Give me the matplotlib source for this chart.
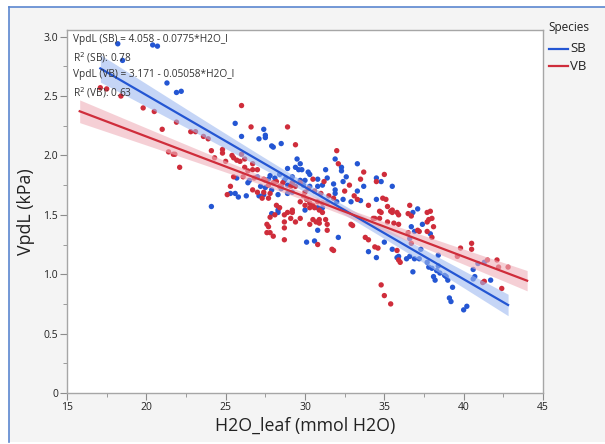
import numpy as np
import matplotlib
matplotlib.use("Agg")
import matplotlib.pyplot as plt
from matplotlib.patches import Rectangle
from matplotlib.lines import Line2D
from matplotlib.ticker import MultipleLocator

plt.rcParams['font.family'] = ['Open Sans', 'DejaVu Sans']

# ---------------- data ----------------
sb_x = [18.2, 20.4, 20.7, 18.5, 21.3, 21.9, 22.2, 24.1,
        25.6, 26.0, 27.4, 27.5, 27.5, 27.1, 27.9, 28.0, 28.5,
        29.5, 29.7, 29.4, 29.6, 29.8, 30.2, 30.3, 30.8, 31.3, 31.4, 28.9, 28.8, 29.2, 29.7,
        30.0, 27.7, 28.1, 27.0, 26.5, 26.4, 27.2, 27.5, 28.5, 28.9, 29.9, 30.3, 30.8, 31.1,
        31.9, 32.3, 32.3, 33.3, 32.6, 32.4, 31.8, 31.9, 31.9, 34.5, 34.8, 35.5, 33.7, 33.3,
        32.4, 34.5, 32.0, 32.9, 33.5,
        25.6, 25.8, 26.3, 27.1, 27.9, 28.3, 28.5, 27.9, 28.3,
        30.0, 31.1, 31.4, 30.8, 30.8,
        30.1, 30.6, 32.1, 35.0, 34.0, 34.5, 35.5, 35.9, 35.8,
        36.4, 36.6, 36.9, 37.2, 37.3, 37.7, 36.8,
        38.0, 38.3, 38.1, 38.5, 38.8, 38.9, 39.3, 38.2, 39.0,
        40.6, 40.7, 40.6, 40.9, 41.7, 41.3,
        38.4, 39.1, 39.2, 40.0, 40.2,
        37.1, 36.8, 36.7, 37.4, 36.9, 37.9, 36.6, 37.8, 38.4,
        25.3, 27.8, 28.4, 28.7, 29.2, 25.7, 28.3, 27.4, 28.9, 29.2]
sb_y = [2.94, 2.93, 2.92, 2.80, 2.61, 2.53, 2.54, 1.57,
        2.27, 2.16, 2.22, 2.17, 2.15, 2.14, 2.08, 2.07, 2.10,
        1.97, 1.93, 1.90, 1.88, 1.88, 1.86, 1.84, 1.80, 1.88, 1.81, 1.89, 1.81, 1.82, 1.79,
        1.79, 1.80, 1.81, 1.82, 1.79, 1.77, 1.74, 1.73, 1.74, 1.75, 1.75, 1.74, 1.74, 1.75,
        1.97, 1.90, 1.87, 1.93, 1.82, 1.78, 1.76, 1.71, 1.68, 1.81, 1.78, 1.74, 1.74, 1.70,
        1.63, 1.63, 1.61, 1.61, 1.62,
        1.68, 1.65, 1.66, 1.66, 1.71, 1.67, 1.72, 1.51, 1.54,
        1.54, 1.56, 1.60, 1.56, 1.37,
        1.27, 1.28, 1.31, 1.27, 1.19, 1.14, 1.21, 1.15, 1.14,
        1.13, 1.15, 1.13, 1.13, 1.21, 1.10, 1.02,
        1.05, 1.03, 0.98, 1.01, 0.99, 0.98, 0.89, 0.95, 0.95,
        1.04, 0.98, 0.96, 1.09, 0.95, 1.10,
        1.16, 0.80, 0.77, 0.70, 0.73,
        1.55, 1.52, 1.40, 1.42, 1.36, 1.34, 1.30, 1.06, 1.07,
        1.68, 1.83, 1.84, 1.79, 1.77, 1.81, 1.52, 1.67, 1.68, 1.69]

vb_x = [17.1, 17.5, 18.4, 19.8, 20.5, 21.0, 21.9, 22.8, 23.1, 23.6, 23.9, 21.4, 21.7, 21.8,
        24.1, 24.3, 22.1,
        26.0, 26.6, 28.9, 29.4,
        24.8, 24.8, 25.0, 25.4, 25.5, 25.7, 25.9, 26.0, 26.2, 26.7, 26.2, 26.4, 26.7, 27.0,
        25.5, 25.3, 26.1, 26.8, 27.4, 27.5, 27.7, 28.0, 28.2, 28.4, 28.6, 29.1, 29.2, 29.4,
        32.0, 32.1, 33.7, 33.5, 35.0, 34.5, 34.9, 33.3,
        35.1, 36.6, 35.4, 35.5, 35.8, 35.9, 36.5, 36.7, 37.7, 37.9, 38.0, 37.7, 37.8, 38.1,
        37.1, 37.2, 37.7, 38.0, 36.5, 35.9, 35.2, 35.6, 34.8, 34.3, 35.5,
        29.7, 30.0, 30.1, 30.3, 30.6, 30.9, 31.1, 30.9, 31.4, 30.8, 31.7, 31.8, 32.9, 33.8,
        34.0, 34.4, 34.6, 35.8, 35.9, 36.0, 34.8, 35.0, 35.4,
        39.8, 40.5, 40.5, 39.6, 41.5, 42.1, 42.2, 42.8, 41.3, 42.4, 41.2,
        36.7, 34.0, 34.7, 34.4, 34.7, 33.0, 35.2,
        25.1, 26.7, 27.0, 27.4, 27.3, 27.7, 27.8, 28.2, 28.4, 28.1, 27.8, 27.7, 27.8, 28.0,
        28.7, 28.7, 29.1, 29.2, 29.2, 28.9, 28.7, 29.4, 29.7, 28.7, 30.3, 30.5, 30.7, 30.9,
        31.3, 31.4, 29.7, 30.0, 30.3, 30.5, 30.8, 31.1,
        27.6, 27.6, 30.2, 30.6, 31.0, 31.5, 31.8, 32.5, 31.2, 30.5, 32.8, 33.1, 29.9]
vb_y = [2.57, 2.56, 2.50, 2.40, 2.37, 2.22, 2.28, 2.20, 2.20, 2.16, 2.14, 2.03, 2.01, 2.01,
        2.04, 1.98, 1.90,
        2.42, 2.24, 2.24, 2.09,
        2.05, 2.02, 1.95, 2.00, 1.98, 1.96, 1.95, 2.01, 1.97, 1.93, 1.90, 1.87, 1.88, 1.88,
        1.82, 1.74, 1.82, 1.81, 1.80, 1.79, 1.75, 1.77, 1.78, 1.74, 1.77, 1.74, 1.77, 1.74,
        2.04, 1.93, 1.86, 1.80, 1.84, 1.78, 1.64, 1.63,
        1.63, 1.58, 1.53, 1.54, 1.52, 1.50, 1.51, 1.49, 1.52, 1.53, 1.47, 1.44, 1.46, 1.40,
        1.37, 1.36, 1.36, 1.31, 1.35, 1.42, 1.44, 1.43, 1.52, 1.47, 1.52,
        1.77, 1.69, 1.63, 1.60, 1.56, 1.54, 1.52, 1.46, 1.37, 1.25, 1.21, 1.20, 1.42, 1.31,
        1.29, 1.23, 1.22, 1.20, 1.12, 1.10, 0.91, 0.82, 0.75,
        1.22, 1.26, 1.21, 1.15, 1.12, 1.12, 1.06, 1.06, 0.94, 0.88, 0.93,
        1.26, 1.58, 1.53, 1.47, 1.47, 1.41, 1.57,
        1.67, 1.71, 1.69, 1.69, 1.64, 1.64, 1.68, 1.58, 1.56, 1.50, 1.48, 1.40, 1.35, 1.32,
        1.39, 1.44, 1.47, 1.52, 1.54, 1.52, 1.50, 1.44, 1.47, 1.29, 1.42, 1.46, 1.44, 1.43,
        1.46, 1.42, 1.61, 1.58, 1.56, 1.58, 1.61, 1.60,
        1.42, 1.35, 1.72, 1.70, 1.68, 1.66, 1.64, 1.70, 1.78, 1.80, 1.75, 1.66, 1.66]

# fitted equations (as reported on the chart) and the x-range each fit spans
sb_intercept, sb_slope, sb_r2 = 4.058, -0.0775, 0.78
vb_intercept, vb_slope, vb_r2 = 3.171, -0.05058, 0.63
sb_fit_range = [17.1, 42.8]
vb_fit_range = [15.8, 44.0]

species = ["SB", "VB"]
x_label = "H2O_leaf (mmol H2O)"
y_label = "VpdL (kPa)"

# ---------------- style ----------------
blue = '#2456d3'
red = '#cf2d3b'
blue_band = '#9fbaf0'
red_band = '#efb0ba'

W, H = 605, 444
fig = plt.figure(figsize=(W / 100, H / 100), dpi=100, facecolor='white')

# outer panel with blue left/top border
bg = Rectangle((9 / W, 2 / H), 1, 1 - 9 / H, transform=fig.transFigure,
               facecolor='#f4f4f4', edgecolor='none', zorder=-10)
fig.patches.append(bg)
fig.add_artist(Line2D([9 / W, 9 / W], [2 / H, 1 - 7 / H], transform=fig.transFigure,
                      color='#5b86cf', lw=1.2))
fig.add_artist(Line2D([9 / W, 1], [1 - 7 / H, 1 - 7 / H], transform=fig.transFigure,
                      color='#5b86cf', lw=1.2))

ax = fig.add_axes([67 / W, 51 / H, 476 / W, 363 / H])
ax.set_facecolor('white')
ax.set_xlim(15, 45)
ax.set_ylim(0, 3.056)

ax.xaxis.set_major_locator(MultipleLocator(5))
ax.xaxis.set_minor_locator(MultipleLocator(2.5))
ax.yaxis.set_minor_locator(MultipleLocator(0.25))
ax.set_yticks([0, 0.5, 1.0, 1.5, 2.0, 2.5, 3.0])
ax.set_yticklabels(['0', '0.5', '1.0', '1.5', '2.0', '2.5', '3.0'])
for s in ax.spines.values():
    s.set_color('#a6a6a6')
    s.set_linewidth(1.0)
ax.tick_params(which='major', length=5, color='#8c8c8c', labelsize=7.5, labelcolor='#222222', pad=1.5)
ax.tick_params(which='minor', length=3, color='#8c8c8c')

ax.scatter(sb_x, sb_y, s=15, color=blue, edgecolors='none', zorder=3)
ax.scatter(vb_x, vb_y, s=15, color=red, edgecolors='none', zorder=3)


def fit_band(xs, ys, b0, b1, xr, color_line, color_band):
    xs = np.asarray(xs)
    ys = np.asarray(ys)
    n = len(xs)
    resid = ys - (b0 + b1 * xs)
    s = np.sqrt(np.sum(resid ** 2) / (n - 2))
    xbar = xs.mean()
    sxx = np.sum((xs - xbar) ** 2)
    xx = np.linspace(xr[0], xr[1], 200)
    yy = b0 + b1 * xx
    se = s * np.sqrt(1.0 / n + (xx - xbar) ** 2 / sxx)
    t = 1.98
    ax.fill_between(xx, yy - t * se, yy + t * se, color=color_band, alpha=0.6,
                    lw=0, zorder=4)
    ax.plot(xx, yy, color=color_line, lw=1.6, zorder=5)


fit_band(sb_x, sb_y, sb_intercept, sb_slope, sb_fit_range, blue, blue_band)
fit_band(vb_x, vb_y, vb_intercept, vb_slope, vb_fit_range, red, red_band)

txt = (f"VpdL (SB) = {sb_intercept:.3f} - {abs(sb_slope):g}*H2O_l\n"
       f"R$^2$ (SB): {sb_r2:.2f}\n"
       f"VpdL (VB) = {vb_intercept:.3f} - {abs(vb_slope):.5f}*H2O_l\n"
       f"R$^2$ (VB): {vb_r2:.2f}")
ax.text(0.012, 0.988, txt, transform=ax.transAxes, ha='left', va='top',
        fontsize=7.3, color='#333333', linespacing=1.45, zorder=6)

ax.set_xlabel(x_label, fontsize=12.8, color='#222222', labelpad=3)
ax.set_ylabel(y_label, fontsize=12.8, color='#222222', labelpad=6)

# legend (outside, right)
fig.text(548 / W, 1 - 27 / H, "Species", fontsize=8.5, color='#222222', va='center', ha='left')
for i, (name, col) in enumerate(zip(species, [blue, red])):
    yy = 1 - (49 + 17 * i) / H
    fig.add_artist(Line2D([549 / W, 568 / W], [yy, yy], transform=fig.transFigure,
                          color=col, lw=1.6))
    fig.text(570 / W, yy, name, fontsize=9.5, color='#222222', va='center', ha='left')

fig.savefig('out.png', dpi=100, facecolor=fig.get_facecolor())
